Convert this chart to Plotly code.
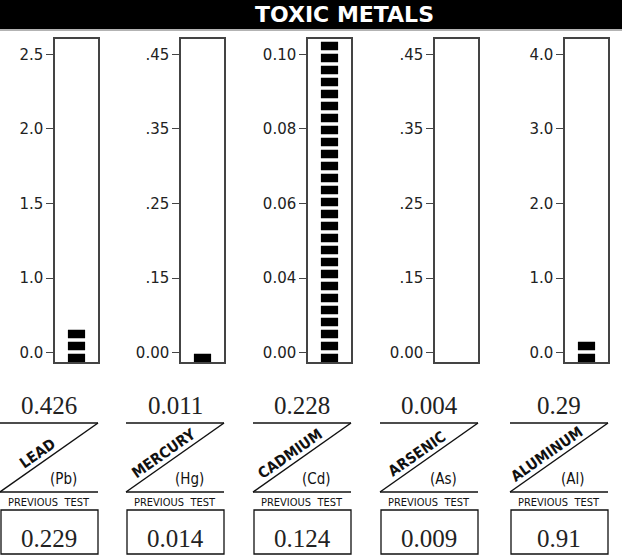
import numpy as np
import plotly.graph_objects as go

# ---------------- data ----------------
metals = ["LEAD", "MERCURY", "CADMIUM", "ARSENIC", "ALUMINUM"]
symbols = ["(Pb)", "(Hg)", "(Cd)", "(As)", "(Al)"]
current_values = [0.426, 0.011, 0.228, 0.004, 0.29]
previous_values = [0.229, 0.014, 0.124, 0.009, 0.91]
tick_values = [
    [0.0, 1.0, 1.5, 2.0, 2.5],
    [0.0, 0.15, 0.25, 0.35, 0.45],
    [0.0, 0.04, 0.06, 0.08, 0.10],
    [0.0, 0.15, 0.25, 0.35, 0.45],
    [0.0, 1.0, 2.0, 3.0, 4.0],
]
tick_labels = [
    ["0.0", "1.0", "1.5", "2.0", "2.5"],
    ["0.00", ".15", ".25", ".35", ".45"],
    ["0.00", "0.04", "0.06", "0.08", "0.10"],
    ["0.00", ".15", ".25", ".35", ".45"],
    ["0.0", "1.0", "2.0", "3.0", "4.0"],
]

# ---------------- layout geometry ----------------
W, H = 622, 557
box_left = [55, 181, 308, 435, 565]
box_w = 43
sec_w = 98
box_top, box_bot = 39.0, 362.3
unit_px = 74.6                       # pixels per tick interval
y_lo = -(box_bot - 352.7) / unit_px
y_hi = y_lo + (box_bot - box_top) / unit_px
pitch = 12.0 / unit_px               # block pitch
blk_h = 8.5 / unit_px                # block height
n_max = int(np.floor(((y_hi - y_lo) - blk_h) / pitch)) + 1


def px(x):
    return x / W


def py(y):
    return 1 - y / H


def scale_pos(v, tv):
    """Map a value onto the panel's equally spaced tick scale."""
    idx = list(range(len(tv)))
    if v <= tv[-1]:
        return float(np.interp(v, tv, idx))
    return idx[-1] + (v - tv[-1]) / (tv[-1] - tv[-2])


fig = go.Figure()
layout = dict(
    width=W, height=H, margin=dict(l=0, r=0, t=0, b=0),
    paper_bgcolor="white", plot_bgcolor="white", showlegend=False,
    barmode="overlay",
)
shapes = []
annotations = []

# title band
shapes.append(dict(type="rect", xref="paper", yref="paper", x0=0, x1=1,
                   y0=py(29), y1=1, fillcolor="black", line=dict(width=0)))
shapes.append(dict(type="line", xref="paper", yref="paper", x0=0, x1=1,
                   y0=py(30), y1=py(30), line=dict(color="#9a9a9a", width=1.5)))
annotations.append(dict(text="<b>TOXIC METALS</b>", xref="paper", yref="paper",
                        x=px(344), y=py(15), showarrow=False,
                        font=dict(family="DejaVu Sans", size=22, color="white"),
                        xanchor="center", yanchor="middle"))

for i in range(5):
    k = "" if i == 0 else str(i + 1)
    xa, ya = "x" + k, "y" + k
    pos = scale_pos(current_values[i], tick_values[i])
    n = int(min(np.floor((pos - y_lo) / pitch), n_max))
    bases = [y_lo + j * pitch for j in range(n)]
    fig.add_trace(go.Bar(
        x=[0] * n, y=[blk_h] * n, base=bases, width=0.4,
        marker=dict(color="black", line=dict(width=0)),
        xaxis=xa, yaxis=ya, hoverinfo="skip",
    ))
    left = box_left[i]
    right = left + box_w
    layout["xaxis" + k] = dict(
        domain=[px(left), px(right)], range=[-0.5, 0.5], anchor=ya,
        showline=True, mirror=True, linecolor="#444", linewidth=1.5,
        showticklabels=False, ticks="", showgrid=False, zeroline=False,
        fixedrange=True,
    )
    layout["yaxis" + k] = dict(
        domain=[py(box_bot), py(box_top)], range=[y_lo, y_hi], anchor=xa,
        tickvals=list(range(5)), ticktext=tick_labels[i],
        ticks="outside", ticklen=7, tickwidth=1.2, tickcolor="#444",
        showline=True, mirror=True, linecolor="#444", linewidth=1.5,
        showgrid=False, zeroline=False,
        tickfont=dict(family="DejaVu Sans", size=15, color="#222"),
        fixedrange=True,
    )

    # bottom section
    sr = right
    sl = sr - sec_w
    cx = (sl + sr) / 2
    annotations.append(dict(text=str(current_values[i]), xref="paper", yref="paper",
                            x=px(cx), y=py(405), showarrow=False,
                            font=dict(family="Liberation Serif", size=25, color="#222"),
                            xanchor="center", yanchor="middle"))
    line_style = dict(color="#111", width=1.5)
    shapes.append(dict(type="line", xref="paper", yref="paper",
                       x0=px(sl), x1=px(sr), y0=py(423), y1=py(423), line=line_style))
    shapes.append(dict(type="line", xref="paper", yref="paper",
                       x0=px(sr), x1=px(sl), y0=py(423), y1=py(492), line=line_style))
    shapes.append(dict(type="line", xref="paper", yref="paper",
                       x0=px(sl), x1=px(sr), y0=py(492), y1=py(492), line=line_style))
    annotations.append(dict(text="<b>" + metals[i] + "</b>", xref="paper", yref="paper",
                            x=px(sl + 37), y=py(454), showarrow=False, textangle=-35,
                            font=dict(family="DejaVu Sans Condensed", size=15, color="#111"),
                            xanchor="center", yanchor="middle"))
    annotations.append(dict(text=symbols[i], xref="paper", yref="paper",
                            x=px(sr - 35), y=py(479), showarrow=False,
                            font=dict(family="DejaVu Sans Condensed", size=15, color="#111"),
                            xanchor="center", yanchor="middle"))
    annotations.append(dict(text="PREVIOUS\u00a0\u00a0TEST", xref="paper", yref="paper",
                            x=px(cx), y=py(502), showarrow=False,
                            font=dict(family="DejaVu Sans Condensed", size=11, color="#111"),
                            xanchor="center", yanchor="middle"))
    shapes.append(dict(type="rect", xref="paper", yref="paper",
                       x0=px(sl + 1), x1=px(sr), y0=py(554), y1=py(510),
                       line=dict(color="#111", width=1.3), fillcolor="rgba(0,0,0,0)"))
    annotations.append(dict(text=str(previous_values[i]), xref="paper", yref="paper",
                            x=px(cx), y=py(538), showarrow=False,
                            font=dict(family="Liberation Serif", size=25, color="#222"),
                            xanchor="center", yanchor="middle"))

layout["shapes"] = shapes
layout["annotations"] = annotations
fig.update_layout(**layout)
fig.write_html("out.html", config={"displayModeBar": False},
               post_script="document.body.style.margin='0';document.body.style.overflow='hidden';")
